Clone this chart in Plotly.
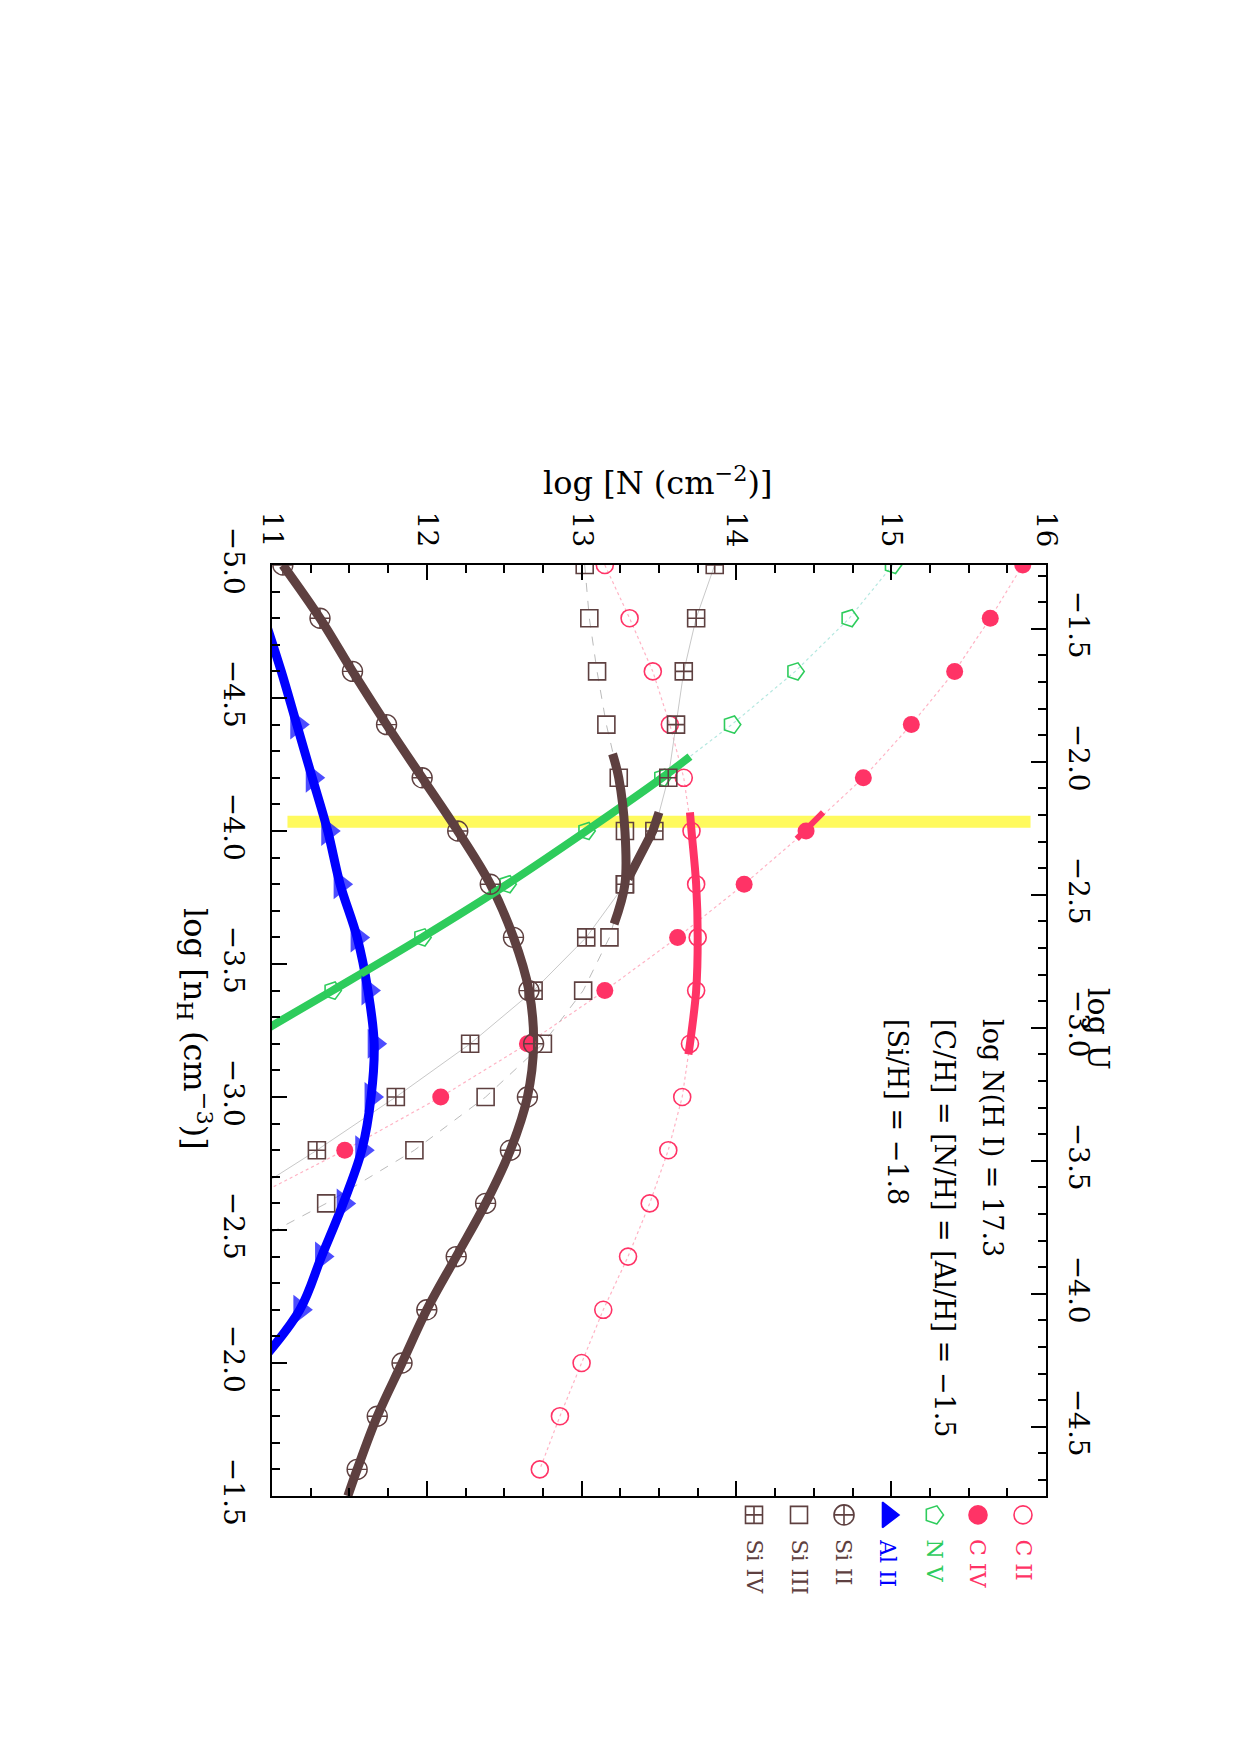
import plotly.graph_objects as go

# ---------------- data ----------------
# hydrogen density grid, log n_H (cm^-3)
nH = [-5.0, -4.8, -4.6, -4.4, -4.2, -4.0, -3.8, -3.6, -3.4, -3.2,
      -3.0, -2.8, -2.6, -2.4, -2.2, -2.0, -1.8, -1.6]

# model column densities, log N (cm^-2)
c2 = [13.15, 13.31, 13.46, 13.57, 13.66, 13.71, 13.74, 13.75, 13.74, 13.70,
      13.65, 13.56, 13.44, 13.30, 13.14, 13.00, 12.86, 12.73]
c4_nH = [-5.0, -4.8, -4.6, -4.4, -4.2, -4.0, -3.8, -3.6, -3.4, -3.2, -3.0, -2.8, -2.6]
c4 = [15.85, 15.64, 15.41, 15.13, 14.82, 14.45, 14.05, 13.62, 13.15, 12.65, 12.09, 11.47, 10.80]
n5_nH = [-5.0, -4.8, -4.6, -4.4, -4.2, -4.0, -3.8, -3.6, -3.4, -3.2]
n5 = [15.01, 14.73, 14.38, 13.97, 13.52, 13.03, 12.52, 11.97, 11.39, 10.80]
al2_nH = [-4.8, -4.6, -4.4, -4.2, -4.0, -3.8, -3.6, -3.4, -3.2, -3.0, -2.8, -2.6, -2.4, -2.2, -2.0]
al2 = [10.95, 11.06, 11.16, 11.26, 11.36, 11.44, 11.55, 11.62, 11.66, 11.64,
       11.58, 11.46, 11.32, 11.18, 10.92]
si2 = [11.07, 11.31, 11.52, 11.74, 11.97, 12.20, 12.41, 12.56, 12.66, 12.69,
       12.65, 12.54, 12.38, 12.19, 12.00, 11.84, 11.68, 11.55]
si3_nH = [-5.0, -4.8, -4.6, -4.4, -4.2, -4.0, -3.8, -3.6, -3.4, -3.2, -3.0, -2.8, -2.6, -2.4]
si3 = [13.02, 13.05, 13.10, 13.16, 13.24, 13.28, 13.28, 13.18, 13.01, 12.75, 12.38, 11.92, 11.35, 10.70]
si4_nH = [-5.0, -4.8, -4.6, -4.4, -4.2, -4.0, -3.8, -3.6, -3.4, -3.2, -3.0, -2.8, -2.6]
si4 = [13.86, 13.74, 13.66, 13.61, 13.56, 13.47, 13.28, 13.03, 12.69, 12.28, 11.80, 11.29, 10.75]

# constrained (thick) parts of the curves
c2_thick_nH = [-4.07, -4.0, -3.8, -3.6, -3.4, -3.2, -3.16]
c2_thick = [13.70, 13.71, 13.74, 13.75, 13.74, 13.70, 13.69]
c4_thick_nH = [-4.07, -3.97]
c4_thick = [14.56, 14.39]
n5_thick_nH = [-4.28, -4.2, -4.0, -3.8, -3.6, -3.4, -3.2]
n5_thick = [13.70, 13.52, 13.03, 12.52, 11.97, 11.39, 10.80]
si3_thick_nH = [-4.29, -4.2, -4.0, -3.8, -3.65]
si3_thick = [13.20, 13.24, 13.28, 13.28, 13.21]
si4_thick_nH = [-4.07, -4.0, -3.82]
si4_thick = [13.50, 13.46, 13.30]
si2_thick_nH = [-5.0, -4.8, -4.6, -4.4, -4.2, -4.0, -3.8, -3.6, -3.4, -3.2,
                -3.0, -2.8, -2.6, -2.4, -2.2, -2.0, -1.8, -1.6, -1.5]
si2_thick = [11.07, 11.31, 11.52, 11.74, 11.97, 12.20, 12.41, 12.56, 12.66, 12.69,
             12.65, 12.54, 12.38, 12.19, 12.00, 11.84, 11.68, 11.55, 11.49]

# adopted density (yellow band)
band_nH = [-4.035, -4.035]
band_N = [11.10, 15.90]

# axes
logN_ticks = [11, 12, 13, 14, 15, 16]
nH_ticks = [-5.0, -4.5, -4.0, -3.5, -3.0, -2.5, -2.0, -1.5]
logU_ticks = [-1.5, -2.0, -2.5, -3.0, -3.5, -4.0, -4.5]
logU_offset = -6.26   # log U = offset - log nH

legend_names = ["C II", "C IV", "N V", "Al II", "Si II", "Si III", "Si IV"]
info_lines = ["log N(H I) = 17.3", "[C/H] = [N/H] = [Al/H] = \u22121.5", "[Si/H] = \u22121.8"]

# ---------------- styling ----------------
RED = "#FF3366"
GREEN = "#2ECC5C"
BLUE = "#0000FF"
BROWN = "#5E4040"
YELLOW = "#FFFA5E"
FONT = "DejaVu Serif"

W, H = 1240, 1755
L, R, T, B = 272, 1046, 565, 1496      # frame of the main plot (pixels)
PB = 1610                               # bottom of the plotting area incl. legend strip
X0, X1 = 11.0, 16.0
Y0, Y1 = -5.0, -1.5
main_dom = [(PB - B) / (PB - T), 1.0]
leg_dom = [0.0, (PB - B) / (PB - T) - 0.001]


def px(x):
    return (x - L) / (R - L)


def py(y):
    return (PB - y) / (PB - T)


fig = go.Figure()

# yellow band
fig.add_trace(go.Scatter(x=band_N, y=band_nH, mode="lines",
                         line=dict(color=YELLOW, width=12), showlegend=False))

# model curves: thin connecting lines first
series = [
    (c2, nH, dict(symbol="circle-open", color=RED, size=17, line=dict(width=1.6, color=RED)),
     dict(color="#FFB3C4", width=1.2, dash="dot")),
    (c4, c4_nH, dict(symbol="circle", color=RED, size=17, line=dict(width=0)),
     dict(color="#FFB3C4", width=1.2, dash="dot")),
    (n5, n5_nH, dict(symbol="pentagon-open", angle=90, color=GREEN, size=18, line=dict(width=1.6, color=GREEN)),
     dict(color="#B5E8E0", width=1.2, dash="dot")),
    (si2, nH, dict(symbol="circle-cross-open", color=BROWN, size=20, line=dict(width=1.4, color=BROWN)),
     dict(color=BROWN, width=1)),
    (si3, si3_nH, dict(symbol="square-open", color=BROWN, size=17, line=dict(width=1.6, color=BROWN)),
     dict(color="#BBBBBB", width=1, dash="dash")),
    (si4, si4_nH, dict(symbol="square-cross-open", color=BROWN, size=17, line=dict(width=1.6, color=BROWN)),
     dict(color="#C8C8C8", width=1)),
]
for xs, ys, mk, ln in series:
    fig.add_trace(go.Scatter(x=xs, y=ys, mode="lines", line=ln, showlegend=False))

# thick constrained curves
thick = [
    (si2_thick, si2_thick_nH, BROWN, 9, "spline"),
    (al2, al2_nH, BLUE, 9, "spline"),
    (n5_thick, n5_thick_nH, GREEN, 8, "spline"),
    (c2_thick, c2_thick_nH, RED, 8, "spline"),
    (c4_thick, c4_thick_nH, RED, 6, "linear"),
    (si3_thick, si3_thick_nH, BROWN, 9, "spline"),
    (si4_thick, si4_thick_nH, BROWN, 9, "linear"),
]
for xs, ys, col, w, shp in thick:
    fig.add_trace(go.Scatter(x=xs, y=ys, mode="lines",
                             line=dict(color=col, width=w, shape=shp), showlegend=False))

# markers on top
for xs, ys, mk, ln in series:
    fig.add_trace(go.Scatter(x=xs, y=ys, mode="markers", marker=mk, showlegend=False))

al_sizes = [0, 0] + [26] * (len(al2) - 2)
fig.add_trace(go.Scatter(x=al2, y=al2_nH, mode="markers",
                         marker=dict(symbol="triangle-right", color=BLUE, size=al_sizes,
                                     line=dict(width=0)),
                         showlegend=False))

# secondary axis trace for log U (invisible, just to activate the axis)
fig.add_trace(go.Scatter(x=[None], y=[None], yaxis="y2", showlegend=False))

# legend keys: drawn in their own hidden strip below the frame (pixel units)
leg_x_px = [1023, 978, 934, 888, 844, 799, 754]
leg_sym_y = 1514
leg_symbols = ["circle-open", "circle", "pentagon-open", "triangle-right",
               "circle-cross-open", "square-open", "square-cross-open"]
leg_colors = [RED, RED, GREEN, BLUE, BROWN, BROWN, BROWN]
leg_angles = [0, 0, 90, 0, 0, 0, 0]
leg_sizes = [18, 18, 19, 22, 20, 17, 17]
for xp, sym, col, ang, sz in zip(leg_x_px, leg_symbols, leg_colors, leg_angles, leg_sizes):
    fig.add_trace(go.Scatter(
        x=[xp], y=[leg_sym_y], xaxis="x3", yaxis="y3", mode="markers",
        showlegend=False,
        marker=dict(symbol=sym, color=col, size=sz, angle=ang,
                    line=dict(width=1.6, color=col))))

annotations = []
for name, xp, col in zip(legend_names, leg_x_px, leg_colors):
    annotations.append(dict(text=name, x=px(xp), y=py(1537), xref="paper", yref="paper",
                            xanchor="center", yanchor="top", textangle=90, showarrow=False,
                            font=dict(family=FONT, size=22, color=col)))

for line, xc in zip(info_lines, [993, 945, 898]):
    annotations.append(dict(text=line, x=px(xc), y=py(1017), xref="paper", yref="paper",
                            xanchor="center", yanchor="top", textangle=90, showarrow=False,
                            font=dict(family=FONT, size=27, color="black")))

annotations.append(dict(text="log [N (cm<sup>\u22122</sup>)]", x=px(658), y=py(481),
                        xref="paper", yref="paper", xanchor="center", yanchor="middle",
                        showarrow=False, font=dict(family=FONT, size=32, color="black")))
annotations.append(dict(text="log [n<sub>H</sub> (cm<sup>\u22123</sup>)]", x=px(195), y=py(1029),
                        xref="paper", yref="paper", xanchor="center", yanchor="middle",
                        textangle=90, showarrow=False,
                        font=dict(family=FONT, size=32, color="black")))
annotations.append(dict(text="log U", x=px(1099), y=py(1029),
                        xref="paper", yref="paper", xanchor="center", yanchor="middle",
                        textangle=90, showarrow=False,
                        font=dict(family=FONT, size=30, color="black")))

tickfont = dict(family=FONT, size=28, color="black")
fig.update_layout(
    width=W, height=H,
    margin=dict(l=L, r=W - R, t=T, b=H - PB, pad=0),
    paper_bgcolor="white", plot_bgcolor="white",
    font=dict(family=FONT, color="black"),
    annotations=annotations,
    xaxis=dict(side="top", range=[X0, X1], tickvals=logN_ticks, ticks="inside",
               anchor="y", domain=[0, 1],
               ticklen=15, tickwidth=1.5, tickcolor="black", tickangle=90,
               tickfont=tickfont, showline=True, linewidth=2, linecolor="black",
               mirror="ticks", showgrid=False, zeroline=False, ticklabelstandoff=6,
               minor=dict(dtick=0.25, tick0=11, ticks="inside", ticklen=8, tickwidth=1.5,
                          tickcolor="black", showgrid=False)),
    yaxis=dict(range=[Y1, Y0], domain=main_dom, anchor="x",
               tickvals=nH_ticks, tickformat=".1f", ticks="inside",
               ticklen=15, tickwidth=1.5, tickcolor="black", tickangle=90,
               tickfont=tickfont, showline=True, linewidth=2, linecolor="black",
               showgrid=False, zeroline=False, ticklabelstandoff=12,
               minor=dict(dtick=0.1, tick0=-5.0, ticks="inside", ticklen=8, tickwidth=1.5,
                          tickcolor="black", showgrid=False)),
    yaxis2=dict(overlaying="y", side="right", anchor="x",
                range=[logU_offset - Y1, logU_offset - Y0],
                tickvals=logU_ticks, tickformat=".1f", ticks="inside",
                ticklen=15, tickwidth=1.5, tickcolor="black", tickangle=90,
                tickfont=tickfont, showline=True, linewidth=2, linecolor="black",
                showgrid=False, zeroline=False, ticklabelstandoff=10,
                minor=dict(dtick=0.1, tick0=-1.5, ticks="inside", ticklen=8, tickwidth=1.5,
                           tickcolor="black", showgrid=False)),
    xaxis3=dict(domain=[0, 1], anchor="y3", range=[L, R], visible=False, fixedrange=True),
    yaxis3=dict(domain=leg_dom, anchor="x3", range=[PB, B], visible=False, fixedrange=True),
)

fig.write_html("out.html")
